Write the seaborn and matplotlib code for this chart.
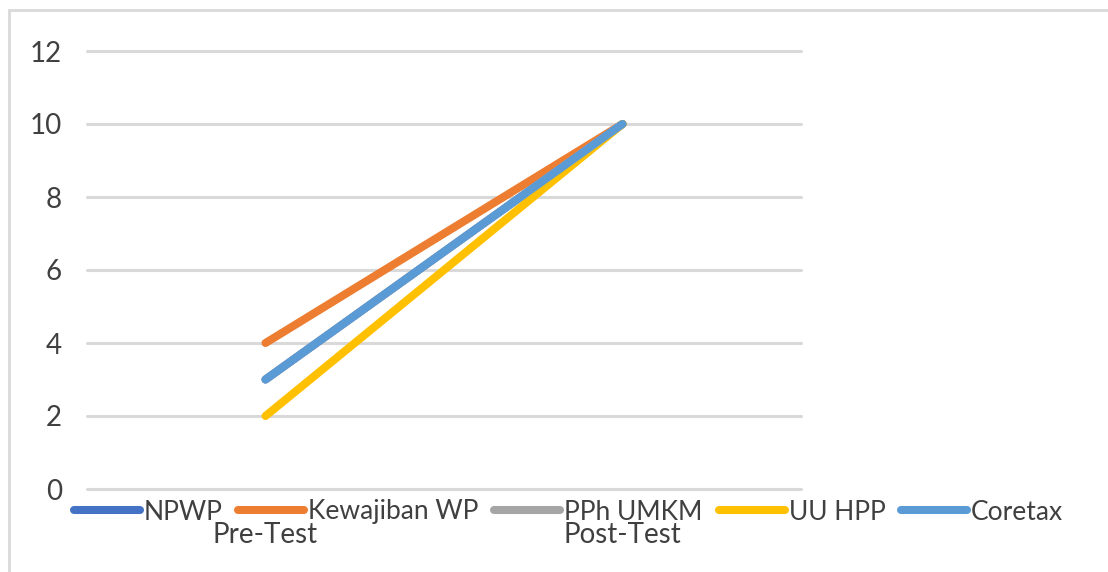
import matplotlib
matplotlib.use("Agg")
import matplotlib.pyplot as plt
from matplotlib.patches import Rectangle
from matplotlib.lines import Line2D
import seaborn as sns
import pandas as pd

categories = ['Pre-Test', 'Post-Test']
series_names = ['NPWP', 'Kewajiban WP', 'PPh UMKM', 'UU HPP', 'Coretax']
npwp = [3, 10]
kewajiban_wp = [4, 10]
pph_umkm = [3, 10]
uu_hpp = [2, 10]
coretax = [3, 10]
y_ticks = [0, 2, 4, 6, 8, 10, 12]

colors = ['#4472C4', '#ED7D31', '#A5A5A5', '#FFC000', '#5B9BD5']

rows = []
for name, vals in zip(series_names, [npwp, kewajiban_wp, pph_umkm, uu_hpp, coretax]):
    for i, v in enumerate(vals):
        rows.append({'seri': name, 'x': i, 'nilai': v})
df = pd.DataFrame(rows)

sns.set_style('white')
plt.rcParams['font.family'] = ['Lato', 'DejaVu Sans']
txt_color = '#404040'

fig = plt.figure(figsize=(11.08, 5.72), dpi=100)
ax = fig.add_axes([87 / 1108, 1 - 489 / 572, 714 / 1108, 438 / 572])

sns.lineplot(data=df, x='x', y='nilai', hue='seri', hue_order=series_names,
             palette=colors, linewidth=5.8, ax=ax, legend=False,
             solid_capstyle='round', sort=False)

ax.set_xlim(-0.5, 1.5)
ax.set_ylim(0, 12)
ax.set_yticks(y_ticks)
ax.set_xticks([0, 1])
ax.set_xticklabels(categories)
ax.set_xlabel('')
ax.set_ylabel('')
for yv in y_ticks:
    ax.axhline(yv, color='#D9D9D9', lw=2.2, zorder=0)
for s in ax.spines.values():
    s.set_visible(False)
ax.tick_params(axis='y', length=0, pad=18, labelsize=20, labelcolor=txt_color)
ax.tick_params(axis='x', length=0, pad=24, labelsize=20, labelcolor=txt_color)
for l in ax.get_lines():
    l.set_clip_on(False)

handles = [Line2D([], [], color=c, lw=5.8, solid_capstyle='round') for c in colors]
fig.legend(handles, series_names, loc='center', bbox_to_anchor=(0.513, 1 - 512 / 572),
           ncol=5, frameon=False, fontsize=19, handlelength=2.5, handletextpad=0.15,
           columnspacing=0.6, labelcolor=txt_color, borderpad=0)

fig.patches.append(Rectangle((9 / 1108, -0.1), 1.2, 1.1 - 10 / 572,
                             transform=fig.transFigure, fill=False,
                             edgecolor='#D9D9D9', lw=2))

fig.savefig('out.png', dpi=100)
